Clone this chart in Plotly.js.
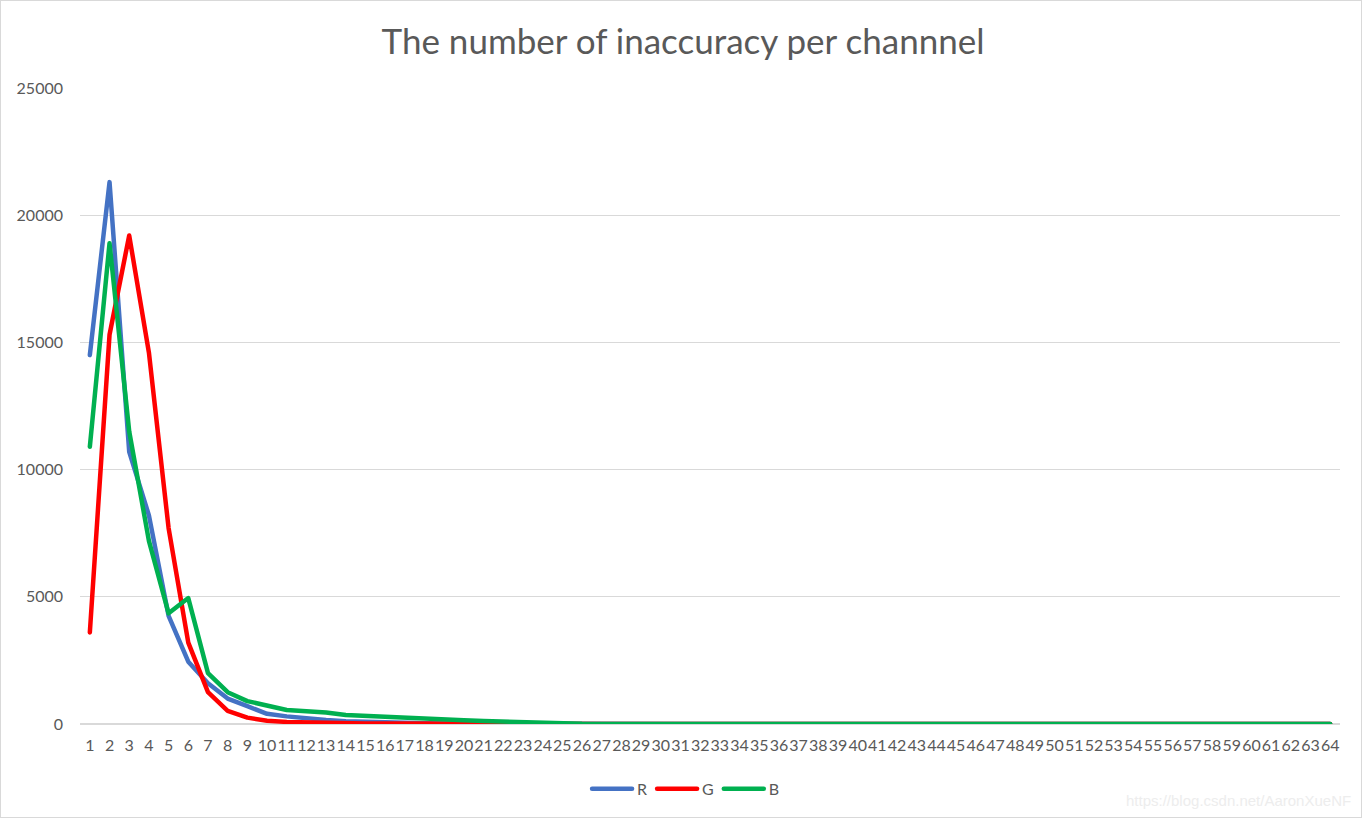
<!DOCTYPE html>
<html>
<head>
<meta charset="utf-8">
<script src="https://cdn.plot.ly/plotly-3.0.1.min.js"></script>
<style>
  html, body { margin: 0; padding: 0; background: #ffffff; }
  #wrap { position: relative; width: 1366px; height: 820px; }
  #chart { width: 1366px; height: 820px; }
  #frame { position: absolute; left: 0; top: 0; width: 1360px; height: 816px; border: 1px solid #d9d9d9; pointer-events: none; }
  #chart path.js-line { stroke-linejoin: round !important; stroke-linecap: round !important; }
</style>
</head>
<body>
<div id="wrap"><div id="chart"></div><div id="frame"></div></div>
<script>
// Categories 1..64
const categories = [
  "1","2","3","4","5","6","7","8","9","10","11","12","13","14","15","16",
  "17","18","19","20","21","22","23","24","25","26","27","28","29","30","31","32",
  "33","34","35","36","37","38","39","40","41","42","43","44","45","46","47","48",
  "49","50","51","52","53","54","55","56","57","58","59","60","61","62","63","64"];

const seriesR = [
  14500, 21300, 10700, 8200, 4250, 2450, 1600, 1000, 700, 400, 300, 220, 160, 110, 80, 60,
  45, 30, 20, 15, 10, 5, 3, 0, 0, 0, 0, 0, 0, 0, 0, 0,
  0, 0, 0, 0, 0, 0, 0, 0, 0, 0, 0, 0, 0, 0, 0, 0,
  0, 0, 0, 0, 0, 0, 0, 0, 0, 0, 0, 0, 0, 0, 0, 0];
const seriesG = [
  3600, 15300, 19200, 14600, 7700, 3200, 1250, 520, 250, 130, 80, 55, 40, 30, 20, 15,
  10, 8, 5, 3, 2, 0, 0, 0, 0, 0, 0, 0, 0, 0, 0, 0,
  0, 0, 0, 0, 0, 0, 0, 0, 0, 0, 0, 0, 0, 0, 0, 0,
  0, 0, 0, 0, 0, 0, 0, 0, 0, 0, 0, 0, 0, 0, 0, 0];
const seriesB = [
  10900, 18900, 11500, 7200, 4350, 4950, 2000, 1250, 900, 720, 550, 500, 450, 350, 310, 280,
  270, 230, 190, 150, 120, 90, 60, 30, 15, 8, 4, 0, 0, 0, 0, 0,
  0, 0, 0, 0, 0, 0, 0, 0, 0, 0, 0, 0, 0, 0, 0, 0,
  0, 0, 0, 0, 0, 0, 0, 0, 0, 0, 0, 0, 0, 0, 0, 0];

const seriesNames = ["R", "G", "B"];
const seriesColors = ["#4472C4", "#FF0000", "#00B050"];
const yTicks = [0, 5000, 10000, 15000, 20000, 25000];

const allSeries = [seriesR, seriesG, seriesB];
const traces = allSeries.map((vals, i) => ({
  type: "scatter",
  mode: "lines",
  x: categories,
  y: vals,
  name: seriesNames[i],
  line: { color: seriesColors[i], width: 4.5 },
  hoverinfo: "x+y+name"
}));

const FONT = "Lato, 'Open Sans', sans-serif";

const layout = {
  width: 1366,
  height: 820,
  paper_bgcolor: "#ffffff",
  plot_bgcolor: "#ffffff",
  margin: { l: 80, r: 26, t: 88, b: 96 },
  title: {
    text: "The number of inaccuracy per channnel",
    font: { family: FONT, size: 35, color: "#595959" },
    x: 0.5, xanchor: "center",
    y: 1 - 42 / 820, yanchor: "middle",
    xref: "container", yref: "container"
  },
  xaxis: {
    type: "category",
    range: [-0.5, 63.5],
    tickmode: "array",
    tickvals: categories,
    ticktext: categories,
    tickangle: 0,
    tickfont: { family: FONT, size: 16, color: "#595959" },
    showgrid: false,
    zeroline: false,
    showline: false,
    ticks: "",
    ticklabelstandoff: 10,
    fixedrange: true
  },
  yaxis: {
    range: [0, 25000],
    tickmode: "array",
    tickvals: yTicks,
    ticktext: yTicks.map(String),
    tickfont: { family: FONT, size: 16, color: "#595959" },
    showgrid: true,
    gridcolor: "#d9d9d9",
    gridwidth: 1.3,
    zeroline: true,
    zerolinecolor: "#d9d9d9",
    zerolinewidth: 1.3,
    showline: false,
    ticks: "",
    ticklabelstandoff: 16,
    fixedrange: true
  },
  showlegend: true,
  legend: {
    orientation: "h",
    x: 0.481, xanchor: "center",
    y: -0.102, yanchor: "middle",
    font: { family: FONT, size: 16, color: "#595959" },
    traceorder: "normal",
    itemwidth: 40,
    bgcolor: "rgba(0,0,0,0)"
  },
  annotations: [{
    text: "https://blog.csdn.net/AaronXueNF",
    xref: "paper", yref: "paper",
    x: 1.01, y: -0.12, xanchor: "right", yanchor: "middle",
    showarrow: false,
    font: { family: "'Liberation Sans', Arial, sans-serif", size: 15, color: "#ededed" }
  }]
};

Plotly.newPlot("chart", traces, layout, { displayModeBar: false, staticPlot: true });
</script>
</body>
</html>
